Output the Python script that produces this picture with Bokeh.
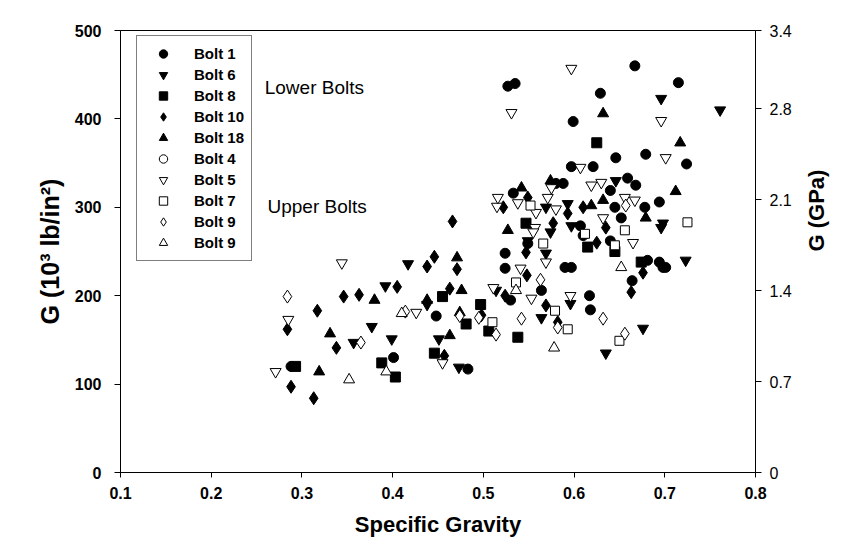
import math
from bokeh.plotting import figure
from bokeh.models import (Range1d, LinearAxis, FixedTicker, CustomJSTickFormatter,
                          Legend, LegendItem, Label, ColumnDataSource, Title)
from bokeh.embed import file_html
from bokeh.resources import INLINE

# ---------------- data ----------------
x_ticks = [0.1, 0.2, 0.3, 0.4, 0.5, 0.6, 0.7, 0.8]
y_ticks = [0, 100, 200, 300, 400, 500]
gpa_ticks = [0, 0.7, 1.4, 2.1, 2.8, 3.4]

bolt1_x = [0.288, 0.401, 0.448, 0.483, 0.527, 0.535, 0.599, 0.597, 0.580, 0.588, 0.533, 0.524,
           0.524, 0.530, 0.590, 0.597, 0.564, 0.549, 0.667, 0.629, 0.646, 0.679, 0.621, 0.659,
           0.668, 0.640, 0.645, 0.678, 0.694, 0.652, 0.607, 0.610, 0.640, 0.681, 0.694, 0.701,
           0.664, 0.617, 0.618, 0.715, 0.724, 0.698]
bolt1_y = [120, 130, 177, 117, 437, 440, 397, 346, 327, 327, 316, 248,
           231, 195, 232, 232, 206, 259, 460, 429, 356, 360, 346, 333,
           325, 319, 300, 300, 306, 288, 279, 268, 262, 240, 238, 232,
           217, 200, 184, 441, 349, 232]

bolt6_x = [0.392, 0.377, 0.357, 0.399, 0.417, 0.438, 0.451, 0.473, 0.569, 0.593, 0.597, 0.574,
           0.569, 0.514, 0.596, 0.564, 0.696, 0.646, 0.696, 0.676, 0.635, 0.761, 0.723, 0.698,
           0.549]
bolt6_y = [211, 165, 147, 151, 236, 190, 151, 119, 300, 304, 279, 272,
           248, 206, 191, 175, 423, 330, 277, 163, 135, 410, 240, 282,
           262]

bolt8_x = [0.293, 0.388, 0.403, 0.455, 0.481, 0.497, 0.506, 0.446, 0.547, 0.538, 0.625, 0.615,
           0.645, 0.674]
bolt8_y = [120, 124, 108, 199, 168, 190, 160, 135, 282, 153, 373, 255,
           250, 238]

bolt10_x = [0.346, 0.363, 0.405, 0.317, 0.284, 0.338, 0.288, 0.313, 0.466, 0.446, 0.438, 0.471,
            0.463, 0.498, 0.457, 0.549, 0.522, 0.593, 0.577, 0.547, 0.524, 0.548, 0.569, 0.582,
            0.610, 0.635, 0.625, 0.676, 0.663]
bolt10_y = [199, 201, 210, 183, 162, 141, 97, 84, 284, 244, 233, 230,
            208, 178, 132, 311, 300, 293, 282, 249, 200, 223, 189, 170,
            300, 277, 260, 226, 204]

bolt18_x = [0.380, 0.331, 0.319, 0.471, 0.476, 0.438, 0.474, 0.463, 0.574, 0.542, 0.527, 0.632,
            0.712, 0.632, 0.619, 0.679, 0.717]
bolt18_y = [195, 157, 114, 243, 206, 195, 181, 155, 330, 322, 274, 406,
            318, 308, 302, 288, 373]

# no Bolt 4 points are distinguishable in the figure (legend entry only)
bolt4_x = [math.nan]
bolt4_y = [math.nan]

bolt5_x = [0.285, 0.344, 0.271, 0.426, 0.515, 0.455, 0.597, 0.531, 0.575, 0.571, 0.516, 0.538,
           0.558, 0.580, 0.557, 0.555, 0.569, 0.541, 0.596, 0.553, 0.607, 0.619, 0.630, 0.701,
           0.696, 0.656, 0.667, 0.632, 0.665, 0.511]
bolt5_y = [173, 237, 114, 181, 301, 124, 457, 407, 322, 311, 311, 305,
           294, 298, 277, 272, 238, 231, 200, 197, 345, 325, 328, 356,
           398, 311, 308, 288, 260, 209]

bolt7_x = [0.510, 0.552, 0.566, 0.536, 0.579, 0.593, 0.612, 0.656, 0.645, 0.650, 0.725]
bolt7_y = [170, 302, 259, 215, 183, 162, 270, 274, 257, 149, 283]

bolt9d_x = [0.284, 0.365, 0.414, 0.474, 0.495, 0.514, 0.563, 0.582, 0.542, 0.657, 0.632, 0.656]
bolt9d_y = [199, 147, 182, 177, 175, 156, 218, 164, 174, 302, 174, 157]

bolt9t_x = [0.393, 0.352, 0.410, 0.536, 0.578, 0.652]
bolt9t_y = [114, 105, 180, 206, 141, 232]

series = [
    ("Bolt 1", bolt1_x, bolt1_y, "circle", True, 10),
    ("Bolt 6", bolt6_x, bolt6_y, "inverted_triangle", True, 11),
    ("Bolt 8", bolt8_x, bolt8_y, "square", True, 10),
    ("Bolt 10", bolt10_x, bolt10_y, "diamond", True, 13),
    ("Bolt 18", bolt18_x, bolt18_y, "triangle", True, 11),
    ("Bolt 4", bolt4_x, bolt4_y, "circle", False, 9),
    ("Bolt 5", bolt5_x, bolt5_y, "inverted_triangle", False, 11),
    ("Bolt 7", bolt7_x, bolt7_y, "square", False, 9),
    ("Bolt 9", bolt9d_x, bolt9d_y, "diamond", False, 13),
    ("Bolt 9", bolt9t_x, bolt9t_y, "triangle", False, 11),
]

FONT = "Liberation Sans"

p = figure(width=844, height=553, x_range=Range1d(0.1, 0.8), y_range=Range1d(0, 500),
           output_backend="svg", toolbar_location=None,
           min_border_left=120, min_border_right=89, min_border_top=30, min_border_bottom=81)
p.extra_y_ranges = {"gpa": Range1d(0, 3.4)}
p.xgrid.visible = False
p.ygrid.visible = False
p.outline_line_color = "black"
p.outline_line_width = 1
p.background_fill_color = "white"
p.border_fill_color = "white"

xa = p.xaxis[0]
xa.ticker = FixedTicker(ticks=x_ticks)
xa.axis_label = "Specific Gravity"
ya = p.yaxis[0]
ya.ticker = FixedTicker(ticks=y_ticks)
ya.axis_label = "G (10³ lb/in²)"

ra = LinearAxis(y_range_name="gpa", ticker=FixedTicker(ticks=gpa_ticks),
                formatter=CustomJSTickFormatter(code="return tick == 0 ? '0' : tick.toFixed(1);"))
p.add_layout(ra, "right")

for ax in (xa, ya, ra):
    ax.axis_line_color = "black"
    ax.major_tick_line_color = "black"
    ax.minor_tick_line_color = None
    ax.major_tick_in = 0
    ax.major_tick_out = 6
    ax.major_label_text_font = FONT
    ax.major_label_text_font_size = "16px"
    ax.major_label_text_font_style = "bold"
    ax.major_label_text_color = "black"
    ax.axis_label_text_font = FONT
    ax.axis_label_text_font_style = "bold"
    ax.axis_label_text_color = "black"

xa.major_tick_out = 5
xa.major_label_standoff = 9
xa.axis_label_text_font_size = "22px"
xa.axis_label_standoff = 10
ya.major_label_standoff = 13
ya.axis_label_text_font_size = "25px"
ya.axis_label_standoff = 8
ra.major_label_standoff = 8
ra.major_label_text_font_style = "normal"

# right-hand axis title, reading bottom to top as in the reference
if "axis_label_orientation" in ra.properties():
    ra.axis_label = "G (GPa)"
    ra.axis_label_text_font_size = "22px"
    ra.axis_label_standoff = 22
    ra.axis_label_orientation = math.pi / 2
else:
    p.add_layout(Title(text="G (GPa)", align="center", text_font=FONT,
                       text_font_size="22px", text_font_style="bold",
                       offset=0, standoff=14), "right")

items = []
for name, xs, ys, marker, filled, size in series:
    src = ColumnDataSource(dict(x=xs, y=ys))
    r = p.scatter("x", "y", source=src, marker=marker, size=size,
                  line_color="black", line_width=1,
                  fill_color="black" if filled else "white")
    items.append(LegendItem(label=name, renderers=[r]))

legend = Legend(items=items, location=(16, 211), orientation="vertical",
                glyph_width=38, glyph_height=21, spacing=0, padding=7,
                label_standoff=12, label_height=21,
                label_text_font=FONT, label_text_font_size="15px",
                label_text_font_style="bold", label_text_color="black",
                border_line_color="black", border_line_width=1,
                background_fill_color="white", background_fill_alpha=1.0,
                margin=0)
p.add_layout(legend, "center")

p.add_layout(Label(x=0.259, y=435, text="Lower Bolts", text_baseline="middle",
                   text_font=FONT, text_font_size="19px", text_color="black"))
p.add_layout(Label(x=0.262, y=301, text="Upper Bolts", text_baseline="middle",
                   text_font=FONT, text_font_size="19px", text_color="black"))

open("out.html", "w").write(file_html(p, INLINE))
